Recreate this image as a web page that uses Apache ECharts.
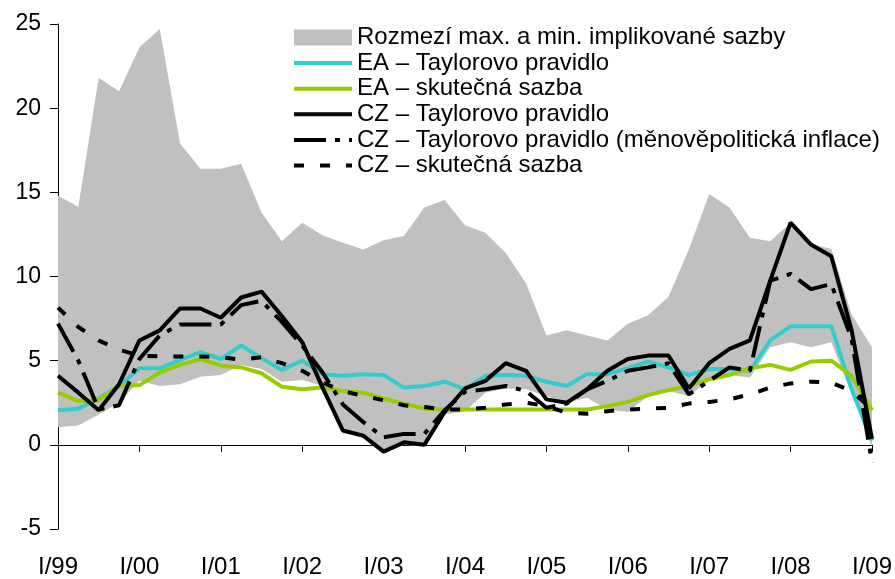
<!DOCTYPE html>
<html>
<head>
<meta charset="utf-8">
<script src="https://cdn.jsdelivr.net/npm/echarts@6/dist/echarts.min.js"></script>
<style>
  html, body { margin: 0; padding: 0; background: #fff; }
  #chart { width: 895px; height: 579px; }
</style>
</head>
<body>
<div id="chart"></div>
<script>
// osa x: čtvrtletí I/99 – I/09
const years = ['99', '00', '01', '02', '03', '04', '05', '06', '07', '08', '09'];
const quarters = ['I', 'II', 'III', 'IV'];
const categories = [];
years.forEach((y, i) => {
  quarters.forEach((q, j) => {
    if (i < years.length - 1 || j === 0) categories.push(q + '/' + y);
  });
});

// rozmezí implikovaných sazeb
const bandUpper = [14.8, 14.15, 21.8, 21.0, 23.6, 24.7, 17.9, 16.4, 16.4, 16.7, 13.8, 12.1, 13.2, 12.45, 12.0, 11.6, 12.15, 12.4, 14.1, 14.55, 13.05, 12.6, 11.4, 9.6, 6.5, 6.8, 6.5, 6.2, 7.2, 7.7, 8.8, 11.6, 14.9, 14.1, 12.3, 12.1, 13.2, 11.9, 11.65, 7.75, 5.8];
const bandLower = [1.05, 1.15, 1.8, 2.5, 3.8, 3.5, 3.6, 4.05, 4.15, 4.75, 4.5, 3.75, 3.85, 3.5, 0.7, 0.4, -0.5, 0.0, -0.1, 1.8, 2.0, 3.1, 3.35, 3.3, 2.9, 2.5, 2.8, 2.1, 1.95, 2.9, 3.2, 2.9, 3.8, 4.15, 4.0, 5.8, 6.1, 5.8, 6.1, 3.0, -0.1];

const eaTaylor = [2.05, 2.15, 2.75, 3.5, 4.55, 4.55, 5.05, 5.5, 5.1, 5.9, 5.15, 4.45, 5.0, 4.2, 4.1, 4.2, 4.15, 3.4, 3.5, 3.75, 3.3, 4.1, 4.15, 4.1, 3.75, 3.5, 4.2, 4.2, 4.55, 4.95, 4.6, 4.15, 4.5, 4.5, 4.4, 6.2, 7.05, 7.05, 7.05, 3.3, 0.25];
const eaActual = [3.1, 2.6, 2.65, 3.5, 3.55, 4.3, 4.75, 5.1, 4.7, 4.6, 4.25, 3.45, 3.3, 3.4, 3.2, 3.1, 2.75, 2.45, 2.15, 2.1, 2.1, 2.1, 2.1, 2.1, 2.1, 2.1, 2.1, 2.3, 2.55, 2.95, 3.25, 3.5, 3.9, 4.15, 4.55, 4.75, 4.45, 4.95, 5.0, 4.1, 2.05];
const czTaylor = [4.1, 3.1, 2.05, 3.6, 6.2, 6.8, 8.1, 8.1, 7.55, 8.75, 9.1, 7.65, 6.1, 3.4, 0.85, 0.55, -0.4, 0.15, 0.0, 1.95, 3.35, 3.8, 4.85, 4.4, 2.7, 2.5, 3.3, 4.4, 5.1, 5.3, 5.3, 3.35, 4.85, 5.7, 6.2, 9.75, 13.2, 11.9, 11.2, 6.8, 0.35];
const czTaylorMp = [7.2, 5.0, 2.1, 2.35, 5.1, 6.5, 7.15, 7.15, 7.15, 8.3, 8.55, 7.3, 5.9, 4.3, 2.4, 1.35, 0.45, 0.65, 0.65, 2.05, 3.15, 3.3, 3.5, 3.2, 2.2, 2.45, 3.3, 3.8, 4.4, 4.6, 4.85, 3.0, 3.8, 4.6, 4.4, 9.75, 10.15, 9.25, 9.55, 6.3, -1.05];
const czActual = [8.15, 7.0, 6.2, 5.65, 5.3, 5.25, 5.25, 5.25, 5.2, 5.05, 5.2, 4.85, 4.4, 3.7, 3.2, 2.9, 2.65, 2.35, 2.25, 2.1, 2.1, 2.2, 2.4, 2.5, 2.3, 1.9, 1.85, 2.0, 2.1, 2.15, 2.2, 2.45, 2.55, 2.7, 3.0, 3.4, 3.65, 3.75, 3.7, 3.2, 2.1];

const names = [
  'Rozmezí max. a min. implikované sazby',
  'EA – Taylorovo pravidlo',
  'EA – skutečná sazba',
  'CZ – Taylorovo pravidlo',
  'CZ – Taylorovo pravidlo (měnověpolitická inflace)',
  'CZ – skutečná sazba'
];

const FONT = '"Liberation Sans", Arial, sans-serif';
const yearTick = (idx) => idx % 4 === 0;

const lineSeries = (name, data, color, type) => ({
  name: name,
  type: 'line',
  data: data,
  symbol: 'none',
  lineStyle: { color: color, width: 4, type: type },
  itemStyle: { color: color },
  z: 3
});

// položka legendy jen s čarou (bez kroužku)
const lineLegend = (name) => ({
  name: name,
  itemStyle: { opacity: 0, color: 'rgba(0,0,0,0)', borderWidth: 0 }
});

const chart = echarts.init(document.getElementById('chart'), null, { renderer: 'canvas' });

chart.setOption({
  animation: false,
  textStyle: { fontFamily: FONT },
  grid: { left: 58, right: 21, top: 24, bottom: 49 },
  legend: {
    orient: 'vertical',
    left: 292,
    top: 25,
    padding: 0,
    itemWidth: 58,
    itemHeight: 16,
    itemGap: 0.6,
    selectedMode: false,
    lineStyle: { width: 4 },
    textStyle: { fontFamily: FONT, fontSize: 24, color: '#000', lineHeight: 25 },
    data: [
      { name: names[0], icon: 'rect', itemStyle: { color: '#C0C0C0' } },
      lineLegend(names[1]),
      lineLegend(names[2]),
      lineLegend(names[3]),
      lineLegend(names[4]),
      lineLegend(names[5])
    ]
  },
  xAxis: {
    type: 'category',
    data: categories,
    boundaryGap: false,
    axisLine: { lineStyle: { color: '#000', width: 1 } },
    axisTick: { interval: yearTick, length: 7, lineStyle: { color: '#000' } },
    axisLabel: {
      interval: yearTick,
      fontSize: 24,
      color: '#000',
      margin: 26,
      fontFamily: FONT
    },
    splitLine: { show: false }
  },
  yAxis: {
    type: 'value',
    min: -5,
    max: 25,
    interval: 5,
    axisLine: { show: true, lineStyle: { color: '#000', width: 1 } },
    axisTick: { show: true, length: 8, lineStyle: { color: '#000' } },
    axisLabel: { fontSize: 23, color: '#000', margin: 17, fontFamily: FONT },
    splitLine: { show: false }
  },
  series: [
    {
      name: 'bandBase',
      type: 'line',
      data: bandLower,
      stack: 'band',
      stackStrategy: 'all',
      symbol: 'none',
      lineStyle: { opacity: 0 },
      z: 1
    },
    {
      name: names[0],
      type: 'line',
      data: bandUpper.map((v, i) => +(v - bandLower[i]).toFixed(3)),
      stack: 'band',
      stackStrategy: 'all',
      symbol: 'none',
      lineStyle: { opacity: 0 },
      areaStyle: { color: '#C0C0C0', opacity: 1 },
      itemStyle: { color: '#C0C0C0' },
      z: 1
    },
    lineSeries(names[1], eaTaylor, '#33CCCC', 'solid'),
    lineSeries(names[2], eaActual, '#99CC00', 'solid'),
    lineSeries(names[3], czTaylor, '#000000', 'solid'),
    lineSeries(names[4], czTaylorMp, '#000000', [32, 9, 5, 9]),
    lineSeries(names[5], czActual, '#000000', [10, 16])
  ]
});
</script>
</body>
</html>
